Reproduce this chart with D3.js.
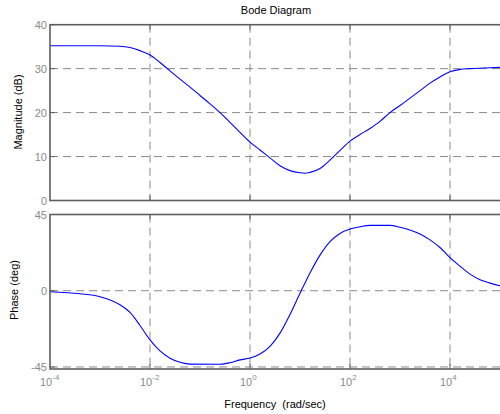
<!DOCTYPE html>
<html>
<head>
<meta charset="utf-8">
<script src="https://cdn.jsdelivr.net/npm/d3@7/dist/d3.min.js"></script>
<style>
  body { margin: 0; background: #fff; }
  svg { display: block; font-family: "Liberation Sans", Arial, sans-serif; }
</style>
</head>
<body>
<div id="chart"></div>
<script>
// values; frequency given as log10(rad/sec)
const magLogFreq = [-4, -3, -2.6, -2.4, -2.2, -2, -1.8, -1.6, -1.4, -1.2, -1, -0.8, -0.6, -0.4, -0.2,
  0, 0.2, 0.4, 0.6, 0.8, 1, 1.1, 1.2, 1.4, 1.6, 1.8, 2, 2.2, 2.4, 2.6, 2.8, 3, 3.2, 3.4, 3.6, 3.8,
  4, 4.2, 4.4, 4.8, 5, 5.5];
const magDb = [35.2, 35.2, 35.1, 34.8, 34.1, 33.1, 31.4, 29.5, 27.6, 25.8, 23.9, 22.0, 20.0, 17.8, 15.5,
  13.3, 11.5, 9.7, 7.9, 6.8, 6.3, 6.2, 6.4, 7.3, 9.2, 11.4, 13.5, 15.0, 16.4, 18.0, 20.0, 21.6, 23.3, 25.0, 26.7, 28.1,
  29.3, 29.8, 30.0, 30.2, 30.3, 30.4];

const phaseLogFreq = [-4, -3.4, -3, -2.6, -2.4, -2.2, -2, -1.8, -1.6, -1.4, -1.2, -0.6, -0.4, -0.2,
  0, 0.2, 0.4, 0.6, 0.8, 1, 1.2, 1.4, 1.6, 1.8, 2, 2.2, 2.4, 2.8, 3, 3.4, 3.6, 3.8,
  4, 4.2, 4.4, 4.6, 4.8, 5, 5.5];
const phaseDeg = [-0.6, -1.8, -3.5, -8.3, -12.8, -20.5, -29.0, -35.5, -39.8, -42.2, -43.3, -43.4, -42.5, -40.8,
  -39.7, -37.3, -32.8, -25.0, -14.0, -1.5, 10.5, 21.0, 29.0, 33.8, 36.4, 37.8, 38.6, 38.6, 37.5, 33.5, 30.0, 25.5,
  19.5, 14.5, 9.8, 6.5, 4.5, 2.9, 1.5];

const xTicks = [1e-4, 1e-2, 1, 1e2, 1e4];
const xTickExp = ["-4", "-2", "0", "2", "4"];
const magTicks = [0, 10, 20, 30, 40];
const phaseTicks = [-45, 0, 45];

const W = 500, H = 414;
const left = 50, right = 500;

const svg = d3.select("#chart").append("svg")
  .attr("width", W).attr("height", H)
  .style("background", "#fff");

const x = d3.scaleLog().domain([1e-4, 1e5]).range([left, right]);
const yMag = d3.scaleLinear().domain([0, 40]).range([200.5, 24.7]);
const yPh = d3.scaleLinear().domain([-46.2, 45]).range([369, 214.5]);

const gridColor = "#8a8a8a";
const frameColor = "#5e5e5e";
const tickColor = "#8a8a8a";

function panel(y, ticks, gridTicks, fx, fy, showX) {
  const g = svg.append("g");
  const [y0, y1] = y.range();

  // dashed grid
  g.selectAll("line.vg").data(xTicks.slice(1)).join("line")
    .attr("x1", d => x(d)).attr("x2", d => x(d))
    .attr("y1", y1).attr("y2", y0)
    .attr("stroke", gridColor).attr("stroke-dasharray", "8,5");
  g.selectAll("line.hg").data(gridTicks).join("line")
    .attr("x1", left).attr("x2", right + 10)
    .attr("y1", d => y(d)).attr("y2", d => y(d))
    .attr("stroke", gridColor).attr("stroke-dasharray", "8,5");

  // curve
  const line = d3.line()
    .x((d, i) => x(10 ** fx[i]))
    .y(d => y(d))
    .curve(d3.curveMonotoneX);
  g.append("path").datum(fy)
    .attr("d", line)
    .attr("fill", "none")
    .attr("stroke", "#0000ff")
    .attr("stroke-width", 1.1);

  // frame
  g.append("rect")
    .attr("x", left).attr("y", y1)
    .attr("width", right - left + 5).attr("height", y0 - y1)
    .attr("fill", "none").attr("stroke", frameColor).attr("stroke-width", 1.6);

  // inward ticks
  g.selectAll("line.yt").data(ticks).join("line")
    .attr("x1", left).attr("x2", left + 5)
    .attr("y1", d => y(d)).attr("y2", d => y(d))
    .attr("stroke", frameColor);
  g.selectAll("line.xt").data(xTicks.slice(1)).join("line")
    .attr("x1", d => x(d)).attr("x2", d => x(d))
    .attr("y1", y1).attr("y2", y1 + 5)
    .attr("stroke", frameColor);
  g.selectAll("line.xb").data(xTicks.slice(1)).join("line")
    .attr("x1", d => x(d)).attr("x2", d => x(d))
    .attr("y1", y0).attr("y2", y0 - 5)
    .attr("stroke", frameColor);

  // y tick labels
  g.selectAll("text.yl").data(ticks).join("text")
    .attr("x", left - 3).attr("y", d => y(d) + 4)
    .attr("text-anchor", "end")
    .attr("font-size", 11)
    .attr("fill", tickColor)
    .text(d => d);

  if (showX) {
    const t = g.selectAll("text.xl").data(xTicks).join("text")
      .attr("x", d => x(d) - 10).attr("y", y0 + 17)
      .attr("font-size", 11)
      .attr("fill", tickColor);
    t.append("tspan").text("10");
    t.append("tspan").attr("dy", -6).attr("font-size", 8)
      .text((d, i) => xTickExp[i]);
  }
}

panel(yMag, magTicks, [10, 20, 30], magLogFreq, magDb, false);
panel(yPh, phaseTicks, [-45, 0, 45], phaseLogFreq, phaseDeg, true);

svg.append("text")
  .attr("x", 276).attr("y", 14)
  .attr("text-anchor", "middle").attr("font-size", 11)
  .text("Bode Diagram");

svg.append("text")
  .attr("x", 275).attr("y", 408)
  .attr("text-anchor", "middle").attr("font-size", 11)
  .attr("xml:space", "preserve")
  .text("Frequency  (rad/sec)");

svg.append("text")
  .attr("transform", "translate(22,112) rotate(-90)")
  .attr("text-anchor", "middle").attr("font-size", 11)
  .text("Magnitude (dB)");

svg.append("text")
  .attr("transform", "translate(18,290) rotate(-90)")
  .attr("text-anchor", "middle").attr("font-size", 11)
  .text("Phase (deg)");
</script>
</body>
</html>
